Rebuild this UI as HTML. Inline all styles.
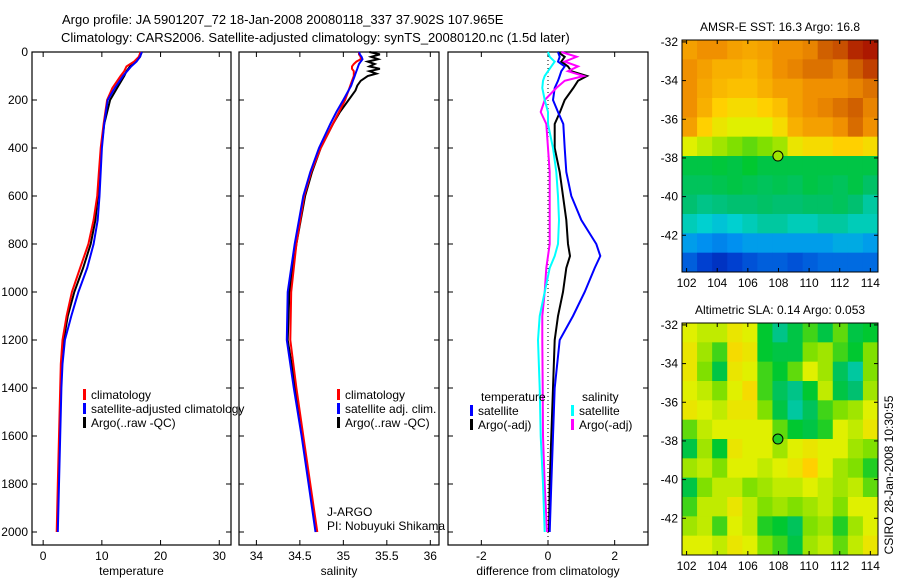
<!DOCTYPE html>
<html><head><meta charset="utf-8"><style>
body{margin:0;background:#fff;}
svg{display:block;font-family:"Liberation Sans",sans-serif;}
</style></head><body>
<svg id="c" width="900" height="580" viewBox="0 0 900 580">
<rect width="900" height="580" fill="#fff"/>
<text x="62" y="24" font-size="13">Argo profile: JA 5901207_72 18-Jan-2008 20080118_337 37.902S 107.965E</text>
<text x="61" y="42" font-size="13">Climatology: CARS2006. Satellite-adjusted climatology: synTS_20080120.nc (1.5d later)</text>
<text transform="translate(893,475) rotate(-90)" text-anchor="middle" font-size="12">CSIRO 28-Jan-2008 10:30:55</text>
<g id="g"></g>
</svg>
<script>
// ---- profile data ----
const depthT=[0,20,40,60,80,100,150,200,300,400,500,600,700,800,900,1000,1100,1200,1300,1400,1600,1800,2000];
const climT=[16.6,16.3,15.5,14.2,13.8,13.2,11.8,10.9,10.3,9.8,9.5,9.2,8.6,7.7,6.3,4.9,4.0,3.3,3.0,2.9,2.7,2.5,2.3];
const satT=[16.8,16.5,15.9,15.0,14.3,13.6,12.2,11.0,10.4,10.0,9.8,9.6,9.3,8.6,7.5,6.0,4.8,3.7,3.3,3.1,2.9,2.7,2.5];
const argoT=[16.8,16.5,15.8,14.8,14.2,13.8,12.6,11.4,10.4,9.9,9.6,9.3,8.9,8.1,6.8,5.3,4.2,3.5,3.1,3.0,2.8,2.6,2.4];
const depthS=[0,10,20,30,40,50,60,70,80,90,100,120,140,160,200,250,300,400,500,600,800,1000,1200,1400,1600,1800,2000];
const climS=[35.18,35.18,35.20,35.20,35.15,35.12,35.10,35.10,35.12,35.12,35.12,35.10,35.08,35.06,35.02,34.95,34.88,34.74,34.63,34.55,34.46,34.40,34.39,34.46,34.54,34.62,34.70];
const satS=[35.18,35.19,35.21,35.22,35.20,35.18,35.17,35.16,35.15,35.14,35.13,35.11,35.09,35.06,35.0,34.92,34.85,34.72,34.62,34.54,34.44,34.36,34.35,34.43,34.52,34.60,34.68];
const argoS=[35.30,35.42,35.32,35.40,35.28,35.36,35.30,35.42,35.30,35.38,35.28,35.20,35.16,35.14,35.06,34.96,34.88,34.74,34.64,34.56,34.46,34.38,34.36,34.45,34.53,34.61,34.69];
const depthD=[0,20,40,60,80,100,120,150,200,250,300,400,500,600,700,800,850,900,1000,1100,1200,1400,1600,1800,2000];
const tSatD=[0.3,0.35,0.3,0.5,0.4,0.35,0.3,0.2,0.15,0.3,0.46,0.5,0.55,0.7,1.0,1.45,1.57,1.4,1.1,0.75,0.35,0.2,0.15,0.1,0.05];
const tArgoD=[0.3,0.5,0.4,0.6,0.7,1.17,0.9,0.76,0.5,0.36,0.2,0.2,0.35,0.45,0.55,0.6,0.66,0.55,0.45,0.3,0.2,0.15,0.1,0.05,0.03];
const sSatD=[0,0.05,0.2,0.1,0,-0.1,-0.15,-0.17,-0.1,0,0,0.15,0.25,0.3,0.33,0.3,0.2,0.05,-0.1,-0.25,-0.3,-0.25,-0.22,-0.15,-0.1];
const sArgoD=[0.4,0.86,0.5,0.9,0.6,1.07,0.5,0.25,-0.1,-0.22,-0.05,0,0.05,0.05,0.05,0.05,0,-0.05,-0.1,-0.17,-0.17,-0.16,-0.15,-0.1,-0.03];
const depthTicks=[0,200,400,600,800,1000,1200,1400,1600,1800,2000];
const tTicks=[0,10,20,30];
const sTicks=[34,34.5,35,35.5,36];
const dTicks=[-2,0,2];
// ---- map data (normalised colour values, rows north->south) ----
const sstGrid=[
[.78,.8,.8,.78,.77,.78,.8,.8,.82,.88,.9,.95,.97],
[.8,.78,.76,.76,.75,.77,.8,.82,.85,.85,.82,.88,.92],
[.8,.77,.75,.74,.74,.76,.78,.78,.8,.8,.8,.82,.85],
[.8,.76,.72,.7,.7,.72,.74,.78,.8,.82,.85,.88,.82],
[.78,.72,.68,.66,.66,.66,.7,.76,.78,.78,.8,.86,.8],
[.66,.64,.62,.6,.58,.6,.62,.68,.7,.7,.72,.72,.7],
[.5,.5,.51,.5,.52,.5,.5,.5,.5,.5,.5,.5,.5],
[.48,.48,.49,.5,.49,.48,.49,.48,.5,.49,.48,.5,.47],
[.46,.44,.45,.46,.46,.47,.46,.46,.47,.47,.48,.46,.42],
[.4,.38,.36,.38,.4,.42,.42,.4,.4,.42,.42,.4,.4],
[.3,.28,.26,.28,.3,.3,.3,.3,.3,.3,.32,.32,.3],
[.2,.15,.12,.15,.18,.2,.2,.18,.2,.22,.22,.22,.22]];
const slaGrid=[
[.66,.64,.64,.68,.66,.52,.44,.5,.56,.5,.58,.5,.52],
[.68,.62,.56,.7,.68,.52,.5,.5,.6,.62,.56,.52,.6],
[.68,.6,.5,.68,.66,.56,.52,.58,.66,.62,.48,.42,.6],
[.66,.64,.6,.66,.7,.56,.48,.44,.52,.64,.5,.46,.62],
[.68,.66,.64,.68,.68,.6,.5,.42,.48,.56,.6,.62,.66],
[.58,.64,.66,.66,.66,.66,.58,.52,.5,.54,.66,.64,.68],
[.5,.62,.52,.68,.66,.66,.62,.66,.68,.66,.66,.62,.6],
[.62,.64,.6,.66,.66,.64,.66,.68,.72,.66,.62,.6,.54],
[.5,.6,.64,.64,.6,.62,.64,.64,.66,.64,.62,.64,.58],
[.56,.64,.64,.68,.64,.6,.62,.6,.62,.64,.6,.66,.66],
[.62,.64,.56,.66,.64,.54,.52,.48,.6,.62,.54,.62,.66],
[.66,.66,.64,.68,.66,.6,.56,.5,.62,.64,.58,.64,.68]];
const lonTicks=[102,104,106,108,110,112,114];
const latTicks=[-32,-34,-36,-38,-40,-42];
const argoPos=[107.965,-37.902];

const NS="http://www.w3.org/2000/svg";
const G=document.getElementById('g');
function mk(t,a,p){const e=document.createElementNS(NS,t);for(const k in a)e.setAttribute(k,a[k]);(p||G).appendChild(e);return e;}
const top0=52,bot=545,dmax=(bot-top0)/0.24;
const yD=d=>top0+d*0.24;

function panel(x0,x1,vmin,vmax,ticks,label,name,showY){
  const sx=v=>x0+(v-vmin)/(vmax-vmin)*(x1-x0);
  const r=mk('rect',{x:x0,y:top0,width:x1-x0,height:bot-top0,fill:'none',stroke:'#000','stroke-width':1.2});
  
  
  depthTicks.forEach(d=>{
    const y=yD(d);
    mk('line',{x1:x0,y1:y,x2:x0+5,y2:y,stroke:'#000'});
    mk('line',{x1:x1,y1:y,x2:x1-5,y2:y,stroke:'#000'});
    if(showY){const t=mk('text',{x:x0-4,y:y+4,'text-anchor':'end','font-size':12});t.textContent=d;
      
      }
  });
  ticks.forEach(v=>{
    const x=sx(v);
    mk('line',{x1:x,y1:bot,x2:x,y2:bot-5,stroke:'#000'});
    mk('line',{x1:x,y1:top0,x2:x,y2:top0+5,stroke:'#000'});
    const t=mk('text',{x:x,y:bot+15,'text-anchor':'middle','font-size':12});t.textContent=v;
    
    
  });
  const l=mk('text',{x:(x0+x1)/2,y:bot+30,'text-anchor':'middle','font-size':12});l.textContent=label;
  
  
  return sx;
}
function line(sx,ds,vs,col,name,w){
  const p=ds.map((d,i)=>sx(vs[i]).toFixed(1)+','+yD(d).toFixed(1)).join(' ');
  const e=mk('polyline',{points:p,fill:'none',stroke:col,'stroke-width':w||2});
  
  
}
function leg(x,y,col,txt,name){
  mk('rect',{x:x,y:y-9,width:3,height:11,fill:col});
  const t=mk('text',{x:x+8,y:y+1,'font-size':12});t.textContent=txt;
  
  
}
// panel 1
const sx1=panel(32,231,-1.9,32,tTicks,'temperature','temperature-panel',true);
line(sx1,depthT,argoT,'#000','temperature-argo-line');
line(sx1,depthT,climT,'#f00','temperature-climatology-line');
line(sx1,depthT,satT,'#00f','temperature-satellite-line');
leg(83,398,'#f00','climatology','legend-climatology');
leg(83,412,'#00f','satellite-adjusted climatology','legend-satellite');
leg(83,426,'#000','Argo(..raw -QC)','legend-argo');
// panel 2
const sx2=panel(239,439,33.8,36.1,sTicks,'salinity','salinity-panel',false);
line(sx2,depthS,argoS,'#000','salinity-argo-line');
line(sx2,depthS,climS,'#f00','salinity-climatology-line');
line(sx2,depthS,satS,'#00f','salinity-satellite-line');
leg(337,398,'#f00','climatology','legend-climatology-2');
leg(337,412,'#00f','satellite adj. clim.','legend-satellite-2');
leg(337,426,'#000','Argo(..raw -QC)','legend-argo-2');
[['J-ARGO',516],['PI: Nobuyuki Shikama',530]].forEach(a=>{const t=mk('text',{x:327,y:a[1],'font-size':12});t.textContent=a[0];
  
  });
// panel 3
const sx3=panel(448,648,-3,3,dTicks,'difference from climatology','difference-panel',false);
mk('line',{x1:sx3(0),y1:top0,x2:sx3(0),y2:bot,stroke:'#000','stroke-dasharray':'1,3'});
line(sx3,depthD,tArgoD,'#000','diff-temperature-argo-line');
line(sx3,depthD,tSatD,'#00f','diff-temperature-satellite-line');
line(sx3,depthD,sArgoD,'#f0f','diff-salinity-argo-line');
line(sx3,depthD,sSatD,'#0ff','diff-salinity-satellite-line');
{const t=mk('text',{x:481,y:401,'font-size':12});t.textContent='temperature';
 
 
 const u=mk('text',{x:582,y:401,'font-size':12});u.textContent='salinity';
 
 }
leg(470,414,'#00f','satellite','legend-temp-satellite');
leg(470,428,'#000','Argo(-adj)','legend-temp-argo');
leg(571,414,'#0ff','satellite','legend-sal-satellite');
leg(571,428,'#f0f','Argo(-adj)','legend-sal-argo');

// ---- maps ----
const stops=[[0,[0,0,140]],[.15,[0,64,208]],[.28,[0,144,240]],[.38,[0,208,208]],[.46,[0,192,112]],[.52,[0,200,48]],[.6,[128,224,0]],[.66,[224,240,0]],[.72,[255,208,0]],[.8,[240,144,0]],[.88,[208,96,0]],[1,[160,0,0]]];
function cmap(v){for(let i=1;i<stops.length;i++){if(v<=stops[i][0]){const a=stops[i-1],b=stops[i],f=(v-a[0])/(b[0]-a[0]);
  return 'rgb('+a[1].map((c,k)=>Math.round(c+(b[1][k]-c)*f)).join(',')+')';}}return 'rgb(160,0,0)';}
function map(y0,grid,title,name,dotCol){
  const x0=682,x1=878,y1=y0+232,lo0=101.7,lo1=114.5,la0=-31.9,la1=-43.9;
  const sx=v=>x0+(v-lo0)/(lo1-lo0)*(x1-x0), sy=v=>y0+(v-la0)/(la1-la0)*(y1-y0);
  const rows=grid.length,cols=grid[0].length,cw=(x1-x0)/cols,ch=(y1-y0)/rows;
  grid.forEach((row,r)=>row.forEach((v,c)=>{
    const e=mk('rect',{x:x0+c*cw,y:y0+r*ch,width:cw+0.5,height:ch+0.5,fill:cmap(v)});
    
    
  }));
  const f=mk('rect',{x:x0,y:y0,width:x1-x0,height:y1-y0,fill:'none',stroke:'#000'});
  
  
  lonTicks.forEach(v=>{const x=sx(v);mk('line',{x1:x,y1:y1,x2:x,y2:y1-4,stroke:'#000'});mk('line',{x1:x,y1:y0,x2:x,y2:y0+4,stroke:'#000'});
    const t=mk('text',{x:x,y:y1+15,'text-anchor':'middle','font-size':12});t.textContent=v;
    
    });
  latTicks.forEach(v=>{const y=sy(v);mk('line',{x1:x0,y1:y,x2:x0+4,y2:y,stroke:'#000'});mk('line',{x1:x1,y1:y,x2:x1-4,y2:y,stroke:'#000'});
    const t=mk('text',{x:x0-4,y:y+4,'text-anchor':'end','font-size':12});t.textContent=v;
    
    });
  const c=mk('circle',{cx:sx(argoPos[0]),cy:sy(argoPos[1]),r:5,fill:dotCol,stroke:'#000'});
  
  
  const t=mk('text',{x:(x0+x1)/2,y:y0-9,'text-anchor':'middle','font-size':12});t.textContent=title;
  
  
}
map(40,sstGrid,'AMSR-E SST: 16.3 Argo: 16.8','sst-map',cmap(0.62));
map(323,slaGrid,'Altimetric SLA: 0.14 Argo: 0.053','sla-map',cmap(0.54));
</script>
</body></html>
